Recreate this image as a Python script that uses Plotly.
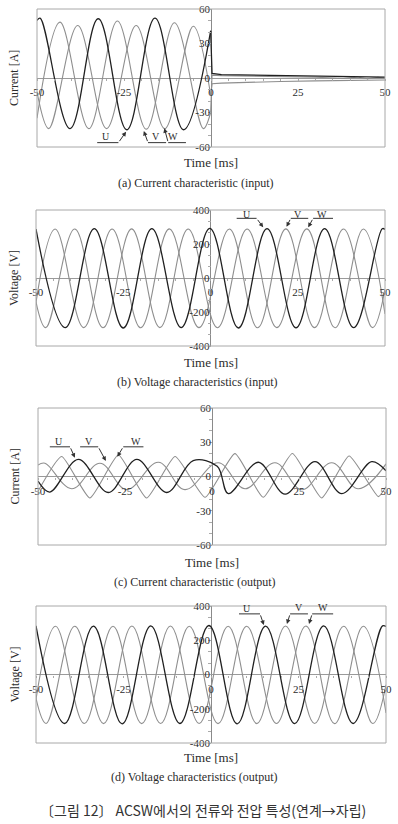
import plotly.graph_objects as go

W_PX, H_PX = 398, 824

# ---------------- tick labels ----------------
time_ticks = [-50, -25, 0, 25, 50]
cur_ticks = [-60, -30, 0, 30, 60]
volt_ticks = [-400, -200, 0, 200, 400]

# ---------------- (a) current, input (ms, A) ----------------
a_u_pre_t = [-50, -49.1, -40.5, -32.4, -24.2, -16.1, -7.9, -0.1]
a_u_pre_v = [50, 52, -44, 51.5, -45, 52, -45, 41]
a_v_pre_t = [-50, -43.4, -35.1, -26.9, -18.6, -10.5, -2.2, -0.1]
a_v_pre_v = [-35, 48.6, -44, 49.5, -44.5, 48, -44, -30]
a_w_pre_t = [-50, -46.6, -38.3, -30.0, -21.5, -13.3, -5.1, -0.1]
a_w_pre_v = [-12, -44, 45.6, -44, 45.6, -44, 45, -15]

a_u_post_t = [-0.1, 0.3, 3, 10, 20, 30, 40, 45, 50]
a_u_post_v = [41, 4, 3, 2.6, 2.1, 1.6, 1.0, 0.5, 0.8]
a_v_post_t = [-0.1, 0.3, 3, 10, 20, 30, 38, 42, 45, 48, 50]
a_v_post_v = [-30, 2.5, 2.1, 1.8, 1.2, 0.6, -0.3, 0.8, -0.6, 0.5, -0.2]
a_w_post_t = [-0.1, 0.3, 3, 10, 20, 30, 40, 50]
a_w_post_v = [-15, -5, -4.5, -3.8, -3.0, -2.5, -2.1, -1.8]

# ---------------- (b) voltage, input (ms, V) ----------------
b_u_t = [-50, -41.6, -33.3, -25.0, -16.8, -8.4, -0.2, 8.0, 16.2, 24.5, 32.7, 41.0, 49.2, 50]
b_u_v = [288, -292, 290, -294, 290, -292, 292, -294, 290, -293, 290, -292, 290, 286]
b_v_t = [-50, -44.5, -36.3, -28.2, -20.0, -11.8, -3.3, 5.4, 13.5, 21.6, 29.8, 38.1, 46.4, 50]
b_v_v = [-145, 288, -292, 288, -293, 289, -292, 288, -293, 289, -292, 288, -292, -65]
b_w_t = [-50, -47.2, -38.9, -30.8, -22.6, -14.5, -6.4, 2.0, 10.5, 19.0, 27.6, 35.7, 43.8, 50]
b_w_v = [-140, -292, 288, -293, 289, -292, 288, -293, 288, -292, 289, -293, 288, -212]

# ---------------- (c) current, output (ms, A) ----------------
c_u_t = [-50, -46.6, -38.4, -29.8, -21.6, -13.0, -5.4, 1.5, 4.7, 13.3, 21.0, 29.6, 37.3, 45.9, 50]
c_u_v = [-4, -13.6, 15, -14, 15, -14, 14, 9, -15, 12.5, -15.5, 13, -15, 13, 5]
c_v_t = [-50, -48, -40.3, -32.2, -24.5, -15.4, -7.8, 1.8, 9.5, 18.1, 25.8, 34.4, 42.0, 50]
c_v_v = [10, 11.6, -10.7, 11.6, -11.5, 12.5, -11.5, 12, -10.7, 12, -11.6, 12, -10.7, 11]
c_w_t = [-50, -43.2, -35.1, -26.9, -18.8, -10.6, -2.0, 6.6, 14.7, 23.1, 31.5, 39.4, 47.8, 50]
c_w_v = [-13, 17.5, -18.8, 18.8, -18.8, 17.5, -18.2, 20, -18.2, 20.2, -18.8, 18, -17.6, -9]

# ---------------- (d) voltage, output (ms, V) ----------------
d_u_t = [-50, -41.8, -33.6, -25.4, -17.2, -8.9, -0.6, 7.5, 15.6, 23.9, 32.2, 40.6, 49.0, 50]
d_u_v = [284, -286, 282, -288, 284, -286, 286, -288, 282, -287, 284, -286, 284, 280]
d_v_t = [-50, -44.4, -36.2, -28.0, -19.8, -11.6, -3.4, 4.9, 13.1, 21.3, 29.6, 37.9, 46.2, 50]
d_v_v = [-145, 282, -286, 282, -287, 283, -286, 282, -287, 283, -286, 282, -286, -60]
d_w_t = [-50, -47.1, -38.9, -30.7, -22.6, -14.4, -6.2, 2.0, 10.2, 18.7, 27.1, 35.3, 43.5, 50]
d_w_v = [-140, -286, 282, -287, 283, -286, 282, -287, 282, -286, 283, -287, 282, -225]

# ---------------- text ----------------
captions = ["(a) Current characteristic (input)",
            "(b) Voltage characteristics (input)",
            "(c) Current characteristic (output)",
            "(d) Voltage characteristics (output)"]
y_titles = ["Current [A]", "Voltage [V]", "Current [A]", "Voltage [V]"]
x_title = "Time [ms]"
fig_title = "〔그림 12〕 ACSW에서의 전류와 전압 특성(연계→자립)"

# ---------------- styling / layout ----------------
DARK = "#202020"
GRAY = "#8e8e8e"
SERIF = "Liberation Serif, Times New Roman, serif"
TXT = "#2b2b2b"

# panel pixel boxes in the page: x0, x1, ytop, ybot
panels = [(37, 385, 9, 147), (36, 385, 210, 346), (38, 386, 408, 545), (36, 386, 606, 743)]
title_y = [163, 362, 562, 757]
caption_y = [183, 382, 582, 777]
caption_x = [196, 197, 195, 194]


def fx(p):
    return p / W_PX


def fy(p):
    return 1 - p / H_PX


fig = go.Figure()


def add_line(t, v, color, idx, smooth=1.1, shape="spline", width=1.1):
    ax = "" if idx == 1 else str(idx)
    line = dict(color=color, width=width, shape=shape)
    if shape == "spline":
        line["smoothing"] = smooth
    fig.add_trace(go.Scatter(x=t, y=v, mode="lines", line=line,
                             xaxis="x" + ax, yaxis="y" + ax, hoverinfo="skip"))


# (a)
add_line(a_w_pre_t, a_w_pre_v, GRAY, 1, 1.0)
add_line(a_v_pre_t, a_v_pre_v, GRAY, 1, 1.0)
add_line(a_u_pre_t, a_u_pre_v, DARK, 1, 1.1, width=1.3)
add_line(a_w_post_t, a_w_post_v, GRAY, 1, shape="linear")
add_line(a_v_post_t, a_v_post_v, GRAY, 1, shape="linear")
add_line(a_u_post_t, a_u_post_v, DARK, 1, shape="linear", width=1.3)
# (b)
add_line(b_w_t, b_w_v, GRAY, 2)
add_line(b_v_t, b_v_v, GRAY, 2)
add_line(b_u_t, b_u_v, DARK, 2, width=1.3)
# (c)
add_line(c_w_t, c_w_v, GRAY, 3, 0.5)
add_line(c_v_t, c_v_v, GRAY, 3, 1.1)
add_line(c_u_t, c_u_v, DARK, 3, 1.0, width=1.3)
# (d)
add_line(d_w_t, d_w_v, GRAY, 4)
add_line(d_v_t, d_v_v, GRAY, 4)
add_line(d_u_t, d_u_v, DARK, 4, width=1.3)

layout = dict(width=W_PX, height=H_PX,
              margin=dict(l=0, r=0, t=0, b=0, pad=0, autoexpand=False),
              paper_bgcolor="white", plot_bgcolor="white", showlegend=False)

yranges = [[-60, 60], [-400, 400], [-60, 60], [-400, 400]]
yticks = [cur_ticks, volt_ticks, cur_ticks, volt_ticks]
yminor = [10, 200 / 3, 10, 200 / 3]

shapes = []
annotations = []
for i, (x0, x1, yt, yb) in enumerate(panels):
    n = "" if i == 0 else str(i + 1)
    layout["xaxis" + n] = dict(
        domain=[fx(x0), fx(x1)], range=[-50, 50], anchor="free",
        position=fy((yt + yb) / 2), showgrid=False, showline=False,
        zeroline=True, zerolinecolor="#8a8a8a", zerolinewidth=1,
        tickvals=time_ticks, ticktext=[str(v) for v in time_ticks],
        ticks="", ticklabelstandoff=6, ticklabeloverflow="allow",
        tickfont=dict(family=SERIF, size=11, color=TXT),
        minor=dict(ticks="outside", dtick=5, tick0=0, ticklen=2, tickcolor="#aaaaaa"),
        fixedrange=True)
    layout["yaxis" + n] = dict(
        domain=[fy(yb), fy(yt)], range=yranges[i], anchor="free",
        position=fx((x0 + x1) / 2), showgrid=False, showline=False,
        zeroline=True, zerolinecolor="#9a9a9a", zerolinewidth=1,
        tickvals=yticks[i], ticktext=[str(v) for v in yticks[i]],
        ticks="", ticklabelstandoff=1, ticklabeloverflow="allow",
        tickfont=dict(family=SERIF, size=11, color=TXT),
        minor=dict(ticks="outside", dtick=yminor[i], tick0=0, ticklen=3, tickcolor="#aaaaaa"),
        fixedrange=True)
    xr = "x" + n
    yr = "y" + n
    shapes.append(dict(type="rect", xref=xr + " domain", yref=yr + " domain",
                       x0=0, x1=1, y0=0, y1=1, line=dict(color="#a8a8a8", width=1)))
    annotations.append(dict(text=y_titles[i], xref="paper", yref="paper",
                            x=fx(14), y=fy((yt + yb) / 2), textangle=-90,
                            xanchor="center", yanchor="middle",
                            showarrow=False, font=dict(family=SERIF, size=12, color=TXT)))
    annotations.append(dict(text=x_title, xref="paper", yref="paper",
                            x=fx((x0 + x1) / 2), y=fy(title_y[i]), showarrow=False,
                            yanchor="middle",
                            font=dict(family=SERIF, size=13, color=TXT)))
    annotations.append(dict(text=captions[i], xref="paper", yref="paper",
                            x=fx(caption_x[i]), y=fy(caption_y[i]), showarrow=False,
                            yanchor="middle",
                            font=dict(family=SERIF, size=12, color=TXT)))

# phase labels: (panel, text, text pos, bar x-extent, bar y, arrow tail, arrow head)
phase_labels = [
    (1, "U", (-30.2, -51), (-32.7, -26.6), -56.2, (-26.6, -56.2), (-24.4, -46.7)),
    (1, "V", (-15.8, -51), (-18.1, -12.9), -56.2, (-18.1, -56.2), (-19.3, -46)),
    (1, "W", (-10.8, -51), (-12.3, -7.2), -56.2, (-12.3, -56.2), (-13.4, -43.7)),
    (2, "U", (10.5, 376), (7.5, 13.2), 351, (13.2, 351), (15.1, 298)),
    (2, "V", (25.1, 376), (23.0, 28.0), 351, (23.0, 351), (21.8, 302)),
    (2, "W", (31.9, 376), (29.4, 35.1), 351, (29.4, 351), (28.0, 298)),
    (3, "U", (-43.9, 31), (-46.6, -40.8), 26, (-40.8, 26), (-39.4, 16.5)),
    (3, "V", (-35.3, 31), (-37.9, -32.7), 26, (-32.7, 26), (-30.5, 13.6)),
    (3, "W", (-21.8, 31), (-25.5, -19.7), 26, (-25.5, 26), (-27.2, 17.3)),
    (4, "U", (10.3, 383), (8.0, 14.0), 354, (14.0, 354), (15.1, 289)),
    (4, "V", (25.1, 389), (22.6, 27.7), 354, (22.6, 354), (21.7, 295)),
    (4, "W", (32.0, 389), (28.9, 34.9), 354, (28.9, 354), (28.0, 295)),
]
for p, txt, tpos, bx, by, tail, head in phase_labels:
    n = "" if p == 1 else str(p)
    xr, yr = "x" + n, "y" + n
    annotations.append(dict(text=txt, x=tpos[0], y=tpos[1], xref=xr, yref=yr,
                            showarrow=False, font=dict(family=SERIF, size=10, color=TXT)))
    shapes.append(dict(type="line", xref=xr, yref=yr, x0=bx[0], x1=bx[1], y0=by, y1=by,
                       line=dict(color="#333333", width=1)))
    annotations.append(dict(text="", x=head[0], y=head[1], ax=tail[0], ay=tail[1],
                            xref=xr, yref=yr, axref=xr, ayref=yr, showarrow=True,
                            arrowhead=2, arrowsize=0.9, arrowwidth=1, arrowcolor="#333333"))

annotations.append(dict(text=fig_title, xref="paper", yref="paper", x=fx(203), y=fy(810),
                        showarrow=False, yanchor="middle",
                        font=dict(family="Noto Sans CJK KR", size=14, color="#333333")))

layout["shapes"] = shapes
layout["annotations"] = annotations
fig.update_layout(**layout)
fig.write_html("out.html")
